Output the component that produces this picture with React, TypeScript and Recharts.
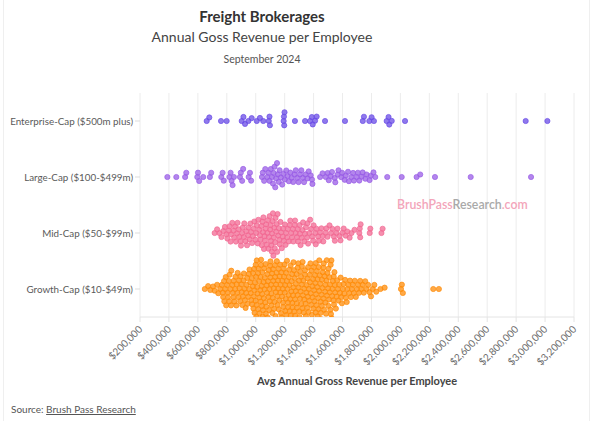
import React from 'react';
import { ScatterChart, Scatter, XAxis, YAxis, CartesianGrid } from 'recharts';

// rows, top to bottom
const CATEGORIES = ['Enterprise-Cap ($500m plus)', 'Large-Cap ($100-$499m)', 'Mid-Cap ($50-$99m)', 'Growth-Cap ($10-$49m)'];
const COLORS = ['#6a4ce6', '#9a5de6', '#f26a93', '#ff8c0a'];
const X_TICKS = [200000, 400000, 600000, 800000, 1000000, 1200000, 1400000, 1600000, 1800000, 2000000, 2200000, 2400000, 2600000, 2800000, 3000000, 3200000];

// revenue per employee, in $ thousands
const ENTERPRISE_K = [661, 679, 760, 799, 903, 915, 926, 949, 972, 1007, 1029, 1052, 1090, 1095, 1098, 1193, 1195, 1197, 1199, 1271, 1341, 1375, 1388, 1394, 1410, 1421, 1479, 1617, 1740, 1748, 1785, 1801, 1817, 1905, 1918, 1923, 1940, 2032, 2866, 3016];

const LARGE_K = [389, 451, 512, 520, 596, 601, 609, 637, 683, 692, 762, 771, 779, 818, 826, 833, 840, 849, 891, 897, 906, 913, 951, 960, 968, 1043, 1049, 1058, 1066,
  1080, 1088, 1095, 1104, 1112, 1119, 1124, 1130, 1135, 1141, 1147, 1153, 1159, 1165,
  1174, 1183, 1192, 1201, 1211, 1220, 1229, 1239, 1248,
  1259, 1268, 1277, 1287, 1296, 1306, 1315, 1325, 1334, 1344,
  1358, 1366, 1380, 1389, 1392, 1445, 1462, 1484, 1497, 1505, 1518, 1527,
  1546, 1550, 1566, 1572, 1591, 1597, 1615, 1622, 1638, 1644, 1661, 1673, 1679, 1698, 1706, 1716,
  1731, 1739, 1758, 1766, 1787, 1795, 1814, 1826, 1909, 2009, 2112, 2137, 2239, 2486, 2903];

const MID_K = [716, 733, 749, 763, 776, 787, 797, 804, 814, 819,
  826, 830, 838, 846, 851, 857, 863, 870, 874, 882, 887, 894, 898, 906, 910, 918, 921, 929, 934, 940, 947, 950, 958, 963, 968, 975, 980, 986, 990, 998, 1003, 1007, 1014, 1018, 1024,
  1029, 1033, 1039, 1042, 1046, 1050, 1053, 1057, 1061, 1064, 1069, 1072, 1076, 1081, 1084, 1088, 1092, 1096, 1100,
  1103, 1105, 1108, 1111, 1113, 1116, 1119, 1122, 1125, 1128, 1131, 1134, 1137, 1141, 1144, 1148, 1151, 1155, 1159, 1163, 1166,
  1171, 1176, 1180, 1187, 1190, 1194, 1202, 1206, 1210, 1218, 1222, 1228, 1235, 1239, 1245, 1251, 1257, 1260, 1269, 1272, 1276, 1285, 1290, 1293,
  1303, 1306, 1310, 1318, 1323, 1327, 1336, 1340, 1347, 1355, 1358, 1362, 1371, 1376, 1383, 1390, 1397, 1400, 1412, 1415, 1420, 1431, 1437, 1445,
  1454, 1463, 1467, 1483, 1488, 1496, 1510,
  1521, 1530, 1540, 1547, 1558, 1565, 1579, 1586, 1599, 1608, 1622, 1633, 1649, 1662, 1683,
  1716, 1719, 1722, 1725, 1788, 1792, 1869, 1877];

const GROWTH_K = [648, 671, 686, 705, 716, 733, 741, 755,
  766, 772, 775, 781, 783, 789, 793, 796, 802, 805, 808, 814, 817, 819, 826, 829, 831, 838, 841, 846, 848, 853, 858, 860, 866, 868, 873, 875, 881, 884, 888, 893,
  895, 901, 903, 907, 912, 916, 918, 923, 926, 930, 934, 937, 941, 943, 948, 952, 955, 957, 962, 966, 969, 973, 975, 979,
  982, 984, 987, 991, 992, 995, 999, 1000, 1002, 1006, 1007, 1010, 1012, 1016, 1019, 1020, 1024, 1025, 1027, 1031, 1034, 1036, 1037, 1041, 1043, 1046, 1047, 1051,
  989, 1004, 1017, 1033, 1044, 1056,
  1053, 1054, 1058, 1061, 1063, 1066, 1068, 1070, 1073, 1076, 1078, 1080, 1083, 1085, 1087, 1090, 1092, 1095, 1097, 1099,
  1101, 1102, 1106, 1108, 1109, 1113, 1115, 1118, 1120, 1121, 1125, 1127, 1130, 1132, 1134, 1137, 1139, 1140, 1144, 1146, 1149, 1151, 1153, 1156, 1158, 1159,
  1163, 1165, 1168, 1170, 1172, 1175, 1177, 1178, 1182, 1184, 1187, 1189, 1191, 1194, 1196, 1199,
  1201, 1203, 1204, 1208, 1210, 1211, 1215, 1216, 1220, 1222, 1223, 1227, 1229, 1232, 1234, 1235, 1239, 1241, 1242, 1246, 1248, 1251, 1253, 1254, 1258, 1260,
  1261, 1265, 1266, 1270, 1272, 1273, 1277, 1278, 1282, 1284, 1285, 1289, 1290, 1294, 1296, 1299,
  1301, 1302, 1306, 1307, 1311, 1313, 1314, 1318, 1319, 1323, 1324, 1326, 1330, 1331, 1335, 1336, 1340, 1341, 1345, 1347, 1350, 1352, 1355, 1357, 1360, 1362,
  1365, 1367, 1370, 1373, 1375, 1378, 1380, 1383, 1385, 1388, 1391, 1393, 1396, 1398,
  1402, 1404, 1407, 1409, 1412, 1415, 1417, 1420, 1423, 1425, 1428, 1431, 1434, 1436, 1439, 1442, 1446, 1448, 1451, 1455, 1457, 1461, 1463, 1467, 1470, 1472,
  1476, 1479, 1482, 1486, 1489, 1492, 1496, 1499, 1503, 1506, 1509, 1512,
  1414, 1427, 1438, 1449, 1458, 1469, 1481, 1491, 1502, 1514,
  1516, 1518, 1520, 1523, 1525, 1528, 1531, 1533, 1537, 1539, 1541, 1544, 1546, 1549, 1554, 1559, 1563, 1568, 1572, 1577, 1582, 1587, 1591, 1596, 1602, 1607,
  1612, 1618, 1623, 1629, 1634, 1640, 1646, 1652, 1658, 1665, 1671, 1678, 1685, 1692, 1699,
  1707, 1714, 1722, 1730, 1739, 1747, 1757, 1766, 1777, 1787, 1797, 1809, 1820, 1833,
  1862, 1891, 2004, 2010, 2017, 2227, 2266];

const SERIES = [ENTERPRISE_K, LARGE_K, MID_K, GROWTH_K];

const W = 592;
const H = 421;
const MARGIN = { top: 93, right: 18, bottom: 44, left: 0 };
const Y_AXIS_W = 140;
const X_AXIS_H = 60;
const X_MIN = 200000;
const X_MAX = 3200000;
const PX_PER_X = (W - MARGIN.left - MARGIN.right - Y_AXIS_W) / (X_MAX - X_MIN);
const PX_PER_Y = (H - MARGIN.top - MARGIN.bottom - X_AXIS_H) / 4;
const DOT_R = 2.6;
const GAP = 4.4;
const FONT = 'Lato, "Open Sans", sans-serif';

// simple beeswarm: nudge each dot up/down off the row centre until it doesn't collide
function swarm(valuesK: number[], row: number) {
  const xs = valuesK.map(v => v * 1000).sort((a, b) => a - b);
  const placed: { px: number; py: number }[] = [];
  return xs.map(x => {
    const px = (x - X_MIN) * PX_PER_X;
    const near = placed.filter(p => px - p.px < GAP);
    const cands = [0];
    near.forEach(p => {
      const dy = Math.sqrt(GAP * GAP - (px - p.px) ** 2);
      cands.push(p.py + dy, p.py - dy);
    });
    cands.sort((a, b) => Math.abs(a) - Math.abs(b));
    const py = cands.find(c => near.every(p => (px - p.px) ** 2 + (c - p.py) ** 2 >= GAP * GAP - 1e-6)) ?? 0;
    placed.push({ px, py });
    return { x, y: row + py / PX_PER_Y };
  });
}

const rowOf = (i: number) => CATEGORIES.length - i - 0.5;

const fmtMoney = (v: number) => '$' + v.toLocaleString('en-US');

const XTick = (props: any) => {
  const { x, y, payload } = props;
  return (
    <text x={x + 3} y={y + 6} transform={`rotate(-45 ${x + 3} ${y + 6})`} textAnchor="end" fontSize={10} fill="#6b6b6b" fontFamily={FONT}>
      {fmtMoney(payload.value)}
    </text>
  );
};

const YTick = (props: any) => {
  const { x, y, payload } = props;
  return (
    <text x={x} y={y} dy={4} textAnchor="end" fontSize={9.8} fill="#5a5a5a" fontFamily={FONT}>
      {CATEGORIES[CATEGORIES.length - 1 - Math.floor(payload.value)]}
    </text>
  );
};

const dot = (color: string) => (props: any) => (
  <circle cx={props.cx} cy={props.cy} r={DOT_R} fill={color} fillOpacity={0.75} stroke={color} strokeWidth={0.7} />
);

export default function App() {
  const data = SERIES.map((s, i) => swarm(s, rowOf(i)));
  return (
    <div style={{ position: 'absolute', left: 0, top: 0, width: W, height: H, background: '#fff', fontFamily: FONT }}>
      <ScatterChart width={W} height={H} margin={MARGIN}>
        <CartesianGrid vertical horizontal={false} stroke="#ececec" />
        <XAxis
          type="number"
          dataKey="x"
          domain={[X_MIN, X_MAX]}
          allowDataOverflow
          ticks={X_TICKS}
          interval={0}
          height={X_AXIS_H}
          tick={<XTick />}
          tickSize={5}
          axisLine={{ stroke: '#e4e4e4' }}
          tickLine={{ stroke: '#e4e4e4' }}
        />
        <YAxis
          type="number"
          dataKey="y"
          domain={[0, 4]}
          allowDataOverflow
          ticks={[0.5, 1.5, 2.5, 3.5]}
          interval={0}
          width={Y_AXIS_W}
          tickSize={5}
          axisLine={false}
          tickLine={{ stroke: '#dddddd' }}
          tick={<YTick />}
        />
        {data.map((d, i) => (
          <Scatter key={CATEGORIES[i]} name={CATEGORIES[i]} data={d} shape={dot(COLORS[i])} isAnimationActive={false} />
        ))}
      </ScatterChart>
      <svg width={W} height={H} style={{ position: 'absolute', left: 0, top: 0, pointerEvents: 'none' }}>
        <line x1={3.5} y1={0} x2={3.5} y2={H} stroke="#efefef" />
        <line x1={589.5} y1={0} x2={589.5} y2={H} stroke="#efefef" />
        <text x={262} y={22} textAnchor="middle" fontSize={15} fontWeight={700} fill="#333" fontFamily={FONT}>Freight Brokerages</text>
        <text x={262} y={42} textAnchor="middle" fontSize={14} fill="#444" fontFamily={FONT}>Annual Goss Revenue per Employee</text>
        <text x={262} y={63} textAnchor="middle" fontSize={10.5} fill="#555" fontFamily={FONT}>September 2024</text>
        <text x={357} y={385} textAnchor="middle" fontSize={11} fontWeight={700} fill="#444" fontFamily={FONT}>Avg Annual Gross Revenue per Employee</text>
        <text x={11} y={413} fontSize={10} fill="#555" fontFamily={FONT}>
          Source: <tspan style={{ textDecoration: 'underline' }}>Brush Pass Research</tspan>
        </text>
        <text x={397} y={209} fontSize={12.3} fontWeight={600} fontFamily={FONT}>
          <tspan fill="#f3a5ba">BrushPass</tspan>
          <tspan fill="#a9a9a9">Research</tspan>
          <tspan fill="#f3a5ba">.com</tspan>
        </text>
      </svg>
    </div>
  );
}
